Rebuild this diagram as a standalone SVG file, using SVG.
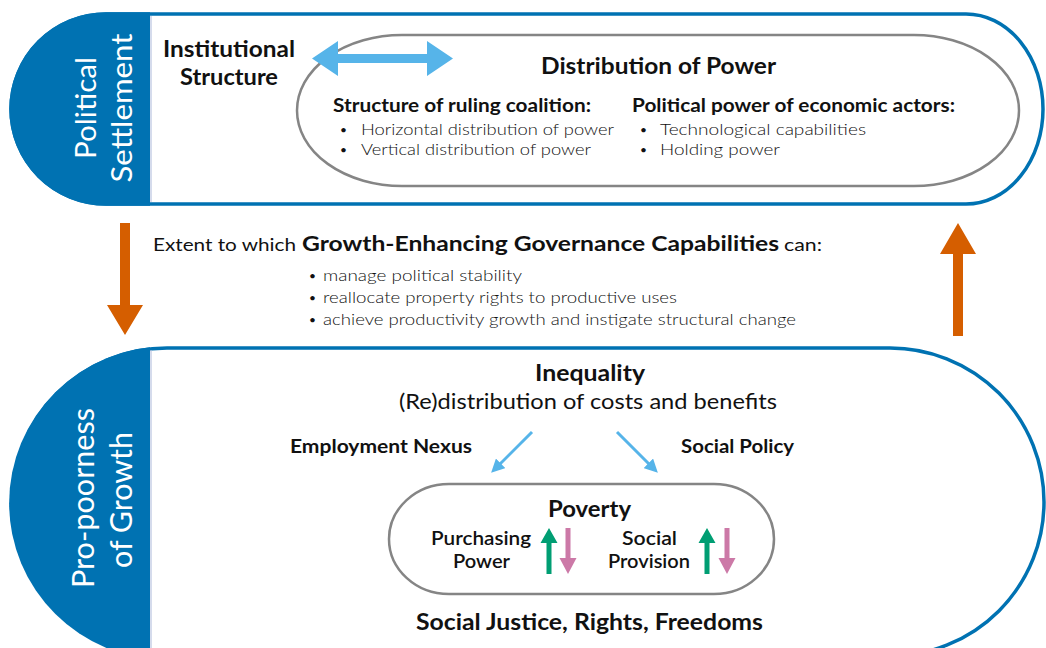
<svg xmlns="http://www.w3.org/2000/svg" width="1046" height="648" viewBox="0 0 1046 648">
  <style>
    text { font-family: Lato, "Open Sans", "Liberation Sans", sans-serif; fill: #111; }
    .band { fill: #fff; stroke: #0072B2; stroke-width: 3.5; }
    .band-fill { fill: #0072B2; }
    .divider { stroke: #B9C3DF; stroke-width: 1.2; }
    .side { fill: #fff; font-size: 28px; text-anchor: middle; }
    .oval { fill: none; stroke: #858585; stroke-width: 2.5; }
    .h { font-weight: 700; font-size: 22px; text-anchor: middle; }
    .sub { font-weight: 700; font-size: 18px; }
    .li { font-size: 16px; font-weight: 300; }
    .dot { font-size: 12px; font-weight: 400; }
    .lbl { font-weight: 700; font-size: 18px; text-anchor: middle; }
    .mid { font-weight: 600; font-size: 19px; text-anchor: middle; }
    .orange { fill: #D55E00; }
    .sky { fill: #56B4E9; }
    .thin { stroke: #56B4E9; stroke-width: 3; fill: none; }
  </style>
  <defs>
    <clipPath id="left-cap">
      <rect x="0" y="0" width="150" height="648"/>
    </clipPath>
    <marker id="sky-head" viewBox="0 0 10 10" refX="7" refY="5" markerWidth="4.5" markerHeight="4.5" orient="auto">
      <path d="M0,0 L10,5 L0,10 z" fill="#56B4E9"/>
    </marker>
    <polygon id="up" points="-2.5,574 -2.5,543 -8.5,543 0,528 8.5,543 2.5,543 2.5,574" fill="#009E73"/>
    <polygon id="down" points="-2.5,528 2.5,528 2.5,558 8.5,558 0,574 -8.5,558 -2.5,558" fill="#CC79A7"/>
  </defs>

  <!-- upper band: political settlement -->
  <g id="political-settlement">
    <path class="band" d="M106,14 H966 A77,95 0 0 1 966,204 H106 A95,95 0 0 1 106,14 Z"/>
    <path class="band-fill" clip-path="url(#left-cap)" d="M106,12.25 H200 V205.75 H106 A96.75,96.75 0 0 1 106,12.25 Z"/>
    <line class="divider" x1="151" y1="16" x2="151" y2="202"/>
    <text class="side" transform="translate(96,108) rotate(-90)" textLength="102" lengthAdjust="spacingAndGlyphs">Political</text>
    <text class="side" transform="translate(132,108) rotate(-90)" textLength="149" lengthAdjust="spacingAndGlyphs">Settlement</text>
  </g>

  <g id="institutional-structure">
    <text class="h" x="229" y="57" textLength="132" lengthAdjust="spacingAndGlyphs">Institutional</text>
    <text class="h" x="229" y="85" textLength="98" lengthAdjust="spacingAndGlyphs">Structure</text>
  </g>

  <g id="distribution-of-power">
    <rect class="oval" x="297" y="35" width="722" height="151" rx="105" ry="75.5"/>
    <text class="h" x="658.5" y="74" textLength="235" lengthAdjust="spacingAndGlyphs">Distribution of Power</text>
    <text class="sub" x="333" y="112" textLength="258" lengthAdjust="spacingAndGlyphs">Structure of ruling coalition:</text>
    <text class="dot" x="340" y="134">•</text>
    <text class="li" x="361" y="135" textLength="253" lengthAdjust="spacingAndGlyphs">Horizontal distribution of power</text>
    <text class="dot" x="340" y="154">•</text>
    <text class="li" x="361" y="155" textLength="230" lengthAdjust="spacingAndGlyphs">Vertical distribution of power</text>
    <text class="sub" x="632" y="112" textLength="323" lengthAdjust="spacingAndGlyphs">Political power of economic actors:</text>
    <text class="dot" x="640" y="134">•</text>
    <text class="li" x="660" y="135" textLength="206" lengthAdjust="spacingAndGlyphs">Technological capabilities</text>
    <text class="dot" x="640" y="154">•</text>
    <text class="li" x="660" y="155" textLength="120" lengthAdjust="spacingAndGlyphs">Holding power</text>
  </g>

  <!-- governance capabilities statement between the bands -->
  <g id="governance-capabilities">
    <text x="153" y="251" style="font-size:18px;font-weight:400" textLength="143" lengthAdjust="spacingAndGlyphs">Extent to which</text>
    <text x="302" y="251" style="font-size:21px;font-weight:700" textLength="477" lengthAdjust="spacingAndGlyphs">Growth-Enhancing Governance Capabilities</text>
    <text x="784" y="251" style="font-size:18px;font-weight:400" textLength="38" lengthAdjust="spacingAndGlyphs">can:</text>
    <text class="dot" x="309" y="280">•</text>
    <text class="li" x="323" y="281" textLength="199" lengthAdjust="spacingAndGlyphs">manage political stability</text>
    <text class="dot" x="309" y="302">•</text>
    <text class="li" x="323" y="303" textLength="354" lengthAdjust="spacingAndGlyphs">reallocate property rights to productive uses</text>
    <text class="dot" x="309" y="324">•</text>
    <text class="li" x="323" y="325" textLength="473" lengthAdjust="spacingAndGlyphs">achieve productivity growth and instigate structural change</text>
  </g>

  <!-- lower band: pro-poorness of growth -->
  <g id="pro-poorness">
    <path class="band" d="M167,348 H890 A154,154 0 0 1 890,656 H167 A155,154 0 0 1 167,348 Z"/>
    <path class="band-fill" clip-path="url(#left-cap)" d="M167,346.25 H200 V660 H167 A156.75,155.75 0 0 1 167,346.25 Z"/>
    <line class="divider" x1="151" y1="350" x2="151" y2="648"/>
    <text class="side" style="font-size:30px" transform="translate(94,498) rotate(-90)" textLength="180" lengthAdjust="spacingAndGlyphs">Pro-poorness</text>
    <text class="side" style="font-size:30px" transform="translate(132,500) rotate(-90)" textLength="136" lengthAdjust="spacingAndGlyphs">of Growth</text>
  </g>

  <g id="inequality">
    <text class="h" x="590" y="381" textLength="110" lengthAdjust="spacingAndGlyphs">Inequality</text>
    <text x="588" y="409" style="font-size:22px;text-anchor:middle" textLength="378" lengthAdjust="spacingAndGlyphs">(Re)distribution of costs and benefits</text>
  </g>

  <g id="employment-nexus">
    <text class="lbl" x="381" y="453" textLength="182" lengthAdjust="spacingAndGlyphs">Employment Nexus</text>
  </g>

  <g id="social-policy">
    <text class="lbl" x="737.5" y="453" textLength="113" lengthAdjust="spacingAndGlyphs">Social Policy</text>
  </g>

  <g id="poverty">
    <rect class="oval" x="389" y="484" width="385" height="110" rx="60" ry="55"/>
    <text class="h" x="589.5" y="517" textLength="83" lengthAdjust="spacingAndGlyphs">Poverty</text>
    <text class="mid" x="481" y="545" textLength="100" lengthAdjust="spacingAndGlyphs">Purchasing</text>
    <text class="mid" x="481.5" y="568" textLength="57" lengthAdjust="spacingAndGlyphs">Power</text>
    <use href="#up" x="549"/>
    <use href="#down" x="568"/>
    <text class="mid" x="649.5" y="545" textLength="55" lengthAdjust="spacingAndGlyphs">Social</text>
    <text class="mid" x="649" y="568" textLength="82" lengthAdjust="spacingAndGlyphs">Provision</text>
    <use href="#up" x="707"/>
    <use href="#down" x="727"/>
  </g>

  <g id="social-justice">
    <text class="h" x="589.5" y="630" textLength="347" lengthAdjust="spacingAndGlyphs">Social Justice, Rights, Freedoms</text>
  </g>

  <!-- connectors -->
  <g id="connectors">
    <polygon class="sky" points="312,58.5 338,41 338,54 427,54 427,41 453,58.5 427,76 427,63 338,63 338,76"/>
    <polygon class="orange" points="120,223 130,223 130,305 143,305 125,335 107,305 120,305"/>
    <polygon class="orange" points="953,336 963,336 963,254 976,254 958,223 940,254 953,254"/>
    <line class="thin" x1="532" y1="432" x2="494" y2="470" marker-end="url(#sky-head)"/>
    <line class="thin" x1="617" y1="432" x2="655" y2="470" marker-end="url(#sky-head)"/>
  </g>
</svg>
